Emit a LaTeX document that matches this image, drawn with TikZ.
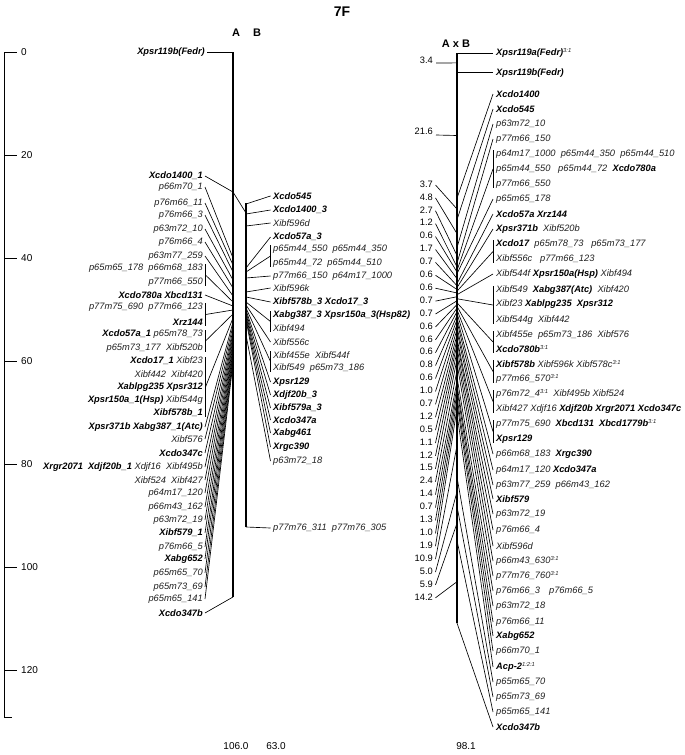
\documentclass[tikz,border=0pt]{standalone}
\usepackage{fontspec}
\setmainfont{Liberation Sans}
\usetikzlibrary{calc}
\definecolor{labgray}{gray}{0.12}
\newcommand\bmk[1]{{\bfseries\color{black}#1}}
\newcommand\myratio[1]{\raisebox{3.4pt}{\fontsize{5.8}{6}\selectfont\mdseries #1}}
\begin{document}
\begin{tikzpicture}[x=1pt,y=-1pt,
  lab/.style={font=\fontsize{9.3}{10}\selectfont\itshape, text=labgray, inner sep=0pt},
  dlab/.style={font=\fontsize{9.3}{10}\selectfont, inner sep=0pt},
  slab/.style={font=\fontsize{10}{11}\selectfont, inner sep=0pt, anchor=west},
  conn/.style={line width=0.65pt},
  barl/.style={line width=1.3pt},
  hdr/.style={font=\fontsize{11}{12}\selectfont\bfseries, inner sep=0pt}]
\useasboundingbox (0,0) rectangle (685,755);

% title and headers
\node[font=\fontsize{14}{15}\selectfont\bfseries, inner sep=0pt] (title) at (342,12) {7F};
\node[hdr] (hA) at (236,33) {A};
\node[hdr] (hB) at (257,33) {B};
\node[hdr] (hAB) at (456,44) {A x B};
\node[slab,anchor=center] (lenA) at (236,746) {106.0};
\node[slab,anchor=center] (lenB) at (276,746) {63.0};
\node[slab,anchor=center] (lenC) at (466,746) {98.1};

% scale
\coordinate (s0) at (4,52);
\coordinate (s1) at (4,717);
\draw[line width=0.9pt] (s0) -- (s1) -- ++(8,0);
\foreach \v in {0,20,40,60,80,100,120}{
  \pgfmathsetmacro\yy{52+5.15*\v}
  \coordinate (t\v) at (4,\yy);
  \draw[line width=0.9pt] (t\v) -- ++(13,0);
  \node[slab] (tl\v) at (21,\yy) {\v};
}

% ---------------- map A ----------------
\coordinate (Atop) at (233,52);
\coordinate (Abot) at (233,597);
\draw[barl] (Atop) -- (Abot);
\node[lab,anchor=east] (A0) at (205,52) {\bmk{Xpsr119b(Fedr)}};
\draw[conn] ([xshift=2pt]A0.east) -- (Atop);

\foreach \n/\y/\ly/\t in {
 1/176/192/\bmk{Xcdo1400\_1},
 2/187/258/p66m70\_1,
 3/203/265/p76m66\_11,
 4/215/272/p76m66\_3,
 5/229/280/p63m72\_10,
 6/242/288/p76m66\_4,
 7/256/296/p63m77\_259,
 9/295/306/\bmk{Xcdo780a Xbcd131},
 13/427/322/\bmk{Xpsr371b Xabg387\_1(Atc)},
 14/439/326/Xibf576,
 15/453/330/\bmk{Xcdo347c},
 16/467/333/\bmk{Xrgr2071}\hspace{5pt}\bmk{Xdjf20b\_1} Xdjf16 \ Xibf495b,
 17/480/336/Xibf524 \ Xibf427,
 18/493/339/p64m17\_120,
 19/507/342/p66m43\_162,
 20/520/345/p63m72\_19,
 21/533/348/\bmk{Xibf579\_1},
 22/547/351/p76m66\_5,
 23/559/354/\bmk{Xabg652},
 24/573/357/p65m65\_70,
 25/587/360/p65m73\_69,
 26/599/363/p65m65\_141}
{
  \node[lab,anchor=east] (A\n) at (203,\y) {\t};
  \coordinate (a\n) at (233,\ly);
  \draw[conn] ([xshift=2pt]A\n.east) -- (a\n);
}
\node[lab,anchor=east] (A27) at (203,613) {\bmk{Xcdo347b}};
\draw[conn] ([xshift=2pt]A27.east) -- (Abot);
% link A -> B
\coordinate (b0) at (246,213);
\draw[conn] (a1) -- (b0);

% bracket groups A
\node[lab,anchor=east] (A8a) at (203,268) {p65m65\_178 \ p66m68\_183};
\node[lab,anchor=east] (A8b) at (203,282) {p77m66\_550};
\coordinate (a8) at (233,302);
\node[lab,anchor=east] (A10a) at (203,307) {p77m75\_690 \ p77m66\_123};
\node[lab,anchor=east] (A10b) at (203,322) {\bmk{Xrz144}};
\coordinate (a10) at (233,310);
\node[lab,anchor=east] (A11a) at (203,334) {\bmk{Xcdo57a\_1} p65m78\_73};
\node[lab,anchor=east] (A11b) at (203,348) {p65m73\_177 \ Xibf520b};
\coordinate (a11) at (233,314);
\node[lab,anchor=east] (A12a) at (203,361) {\bmk{Xcdo17\_1} Xibf23};
\node[lab,anchor=east] (A12b) at (203,374) {Xibf442 \ Xibf420};
\node[lab,anchor=east] (A12c) at (203,387) {\bmk{Xablpg235 Xpsr312}};
\node[lab,anchor=east] (A12d) at (203,400) {\bmk{Xpsr150a\_1(Hsp)} Xibf544g};
\node[lab,anchor=east] (A12e) at (203,413) {\bmk{Xibf578b\_1}};
\coordinate (a12) at (233,318);
\foreach \g/\lo in {8/b,10/b,11/b,12/e}{
  \draw[conn] ([xshift=2.5pt,yshift=4pt]A\g a.east) -- ([xshift=2.5pt,yshift=-4pt]A\g\lo.east);
  \draw[conn] ($(A\g a.east)!0.5!(A\g\lo.east)+(2.5,0)$) -- (a\g);
}

% ---------------- map B ----------------
\coordinate (Btop) at (246,203);
\coordinate (Bbot) at (246,527);
\draw[barl] (Btop) -- (Bbot);
\foreach \n/\y/\ly/\t in {
 1/196/204/\bmk{Xcdo545},
 2/210/214/\bmk{Xcdo1400\_3},
 3/223/226/Xibf596d,
 4/237/268/\bmk{Xcdo57a\_3},
 6/276/278/p77m66\_150 \ p64m17\_1000,
 7/288/292/Xibf596k,
 8/302/297/\bmk{Xibf578b\_3 Xcdo17\_3},
 10/342/305/Xibf556c,
 12/382/310/\bmk{Xpsr129},
 13/395/312/\bmk{Xdjf20b\_3},
 14/408/314/\bmk{Xibf579a\_3},
 15/420/316/\bmk{Xcdo347a},
 16/433/318/\bmk{Xabg461},
 17/447/320/\bmk{Xrgc390},
 18/461/335/p63m72\_18}
{
  \node[lab,anchor=west] (B\n) at (273,\y) {\t};
  \coordinate (bb\n) at (246,\ly);
  \draw[conn] ([xshift=-2.5pt]B\n.west) -- (bb\n);
}
\node[lab,anchor=west] (B19) at (273,528) {p77m76\_311 \ p77m76\_305};
\draw[conn] ([xshift=-2.5pt]B19.west) -- (Bbot);
\node[lab,anchor=west] (B5a) at (273,249) {p65m44\_550 \ p65m44\_350};
\node[lab,anchor=west] (B5b) at (273,263) {p65m44\_72 \ p65m44\_510};
\coordinate (bb5) at (246,272);
\node[lab,anchor=west] (B9a) at (273,315) {\bmk{Xabg387\_3 Xpsr150a\_3(Hsp82)}};
\node[lab,anchor=west] (B9b) at (273,328) {Xibf494};
\coordinate (bb9) at (246,302);
\node[lab,anchor=west] (B11a) at (273,355) {Xibf455e \ Xibf544f};
\node[lab,anchor=west] (B11b) at (273,368) {Xibf549 \ p65m73\_186};
\coordinate (bb11) at (246,308);
\foreach \g in {5,9,11}{
  \draw[conn] ([xshift=-2.5pt,yshift=4pt]B\g a.west) -- ([xshift=-2.5pt,yshift=-4pt]B\g b.west);
  \draw[conn] ($(B\g a.west)!0.5!(B\g b.west)+(-2.5,0)$) -- (bb\g);
}

% ---------------- map A x B ----------------
\coordinate (Ctop) at (457,53);
\coordinate (Cbot) at (457,623);
\draw[barl] (Ctop) -- (Cbot);
\node[lab,anchor=west] (R0) at (496,53) {\bmk{Xpsr119a(Fedr)}\myratio{3:1}};
\draw[conn] ([xshift=-3pt]R0.west) -- (Ctop);
\coordinate (c1) at (457,72.8);
\node[lab,anchor=west] (R1) at (496,72.8) {\bmk{Xpsr119b(Fedr)}};
\draw[conn] ([xshift=-3pt]R1.west) -- (c1);

\foreach \n/\y/\c/\t in {
 2/94/25.0/\bmk{Xcdo1400},
 3/109/28.7/\bmk{Xcdo545},
 4/124/33.5/p63m72\_10,
 5/139/36.2/p77m66\_150,
 7/199/38.0/p65m65\_178,
 8/214/39.7/\bmk{Xcdo57a Xrz144},
 9/229/40.4/\bmk{Xpsr371b}\hspace{5pt}Xibf520b,
 11/274/41.6/Xibf544f \bmk{Xpsr150a(Hsp)} Xibf494,
 17/454/45.6/p66m68\_183 \ \bmk{Xrgc390},
 18/470/46.2/p64m17\_120 \bmk{Xcdo347a},
 19/485/47.2/p63m77\_259 \ p66m43\_162,
 20/499/47.9/\bmk{Xibf579},
 21/514/49.1/p63m72\_19,
 22/530/49.6/p76m66\_4,
 23/546/50.7/Xibf596d,
 24/561/51.9/p66m43\_630\myratio{3:1},
 25/576/53.4/p77m76\_760\myratio{3:1},
 26/591/55.8/p76m66\_3\hspace{9pt}p76m66\_5,
 27/606/57.2/p63m72\_18,
 28/622/57.9/p76m66\_11,
 29/636/59.2/\bmk{Xabg652},
 30/651/60.2/p66m70\_1,
 31/667/62.1/\bmk{Acp-2}\myratio{1:2:1},
 32/682/73.0/p65m65\_70,
 33/697/78.0/p65m73\_69,
 34/712/83.9/p65m65\_141}
{
  \pgfmathsetmacro\ly{53+5.81*\c}
  \node[lab,anchor=west] (R\n) at (496,\y) {\t};
  \coordinate (c\n) at (457,\ly);
  \draw[conn] ([xshift=-3pt]R\n.west) -- (c\n);
}
\node[lab,anchor=west] (R35) at (496,727) {\bmk{Xcdo347b}};
\draw[conn] ([xshift=-3pt]R35.west) -- (Cbot);

% bracket groups right
\node[lab,anchor=west] (R6a) at (496,154) {p64m17\_1000 \ p65m44\_350 \ p65m44\_510};
\node[lab,anchor=west] (R6b) at (496,169) {p65m44\_550 \ \ p65m44\_72 \ \bmk{Xcdo780a}};
\node[lab,anchor=west] (R6c) at (496,184) {p77m66\_550};
\node[lab,anchor=west] (R10a) at (496,244) {\bmk{Xcdo17} \ p65m78\_73 \ \ p65m73\_177};
\node[lab,anchor=west] (R10b) at (496,259) {Xibf556c \ \ p77m66\_123};
\node[lab,anchor=west] (R12a) at (496,290) {Xibf549 \ \bmk{Xabg387(Atc)} \ Xibf420};
\node[lab,anchor=west] (R12b) at (496,304) {Xibf23 \bmk{Xablpg235 \ Xpsr312}};
\node[lab,anchor=west] (R12c) at (496,320) {Xibf544g \ Xibf442};
\node[lab,anchor=west] (R13a) at (496,335) {Xibf455e \ p65m73\_186 \ Xibf576};
\node[lab,anchor=west] (R13b) at (496,349) {\bmk{Xcdo780b}\myratio{3:1}};
\node[lab,anchor=west] (R14a) at (496,364) {\bmk{Xibf578b} Xibf596k Xibf578c\myratio{3:1}};
\node[lab,anchor=west] (R14b) at (496,379) {p77m66\_570\myratio{3:1}};
\node[lab,anchor=west] (R15a) at (496,394) {p76m72\_4\myratio{3:1} \ Xibf495b Xibf524};
\node[lab,anchor=west] (R15b) at (496,409) {Xibf427 Xdjf16 \bmk{Xdjf20b Xrgr2071 Xcdo347c}};
\node[lab,anchor=west] (R16a) at (496,424) {p77m75\_690 \ \bmk{Xbcd131 \ Xbcd1779b}\myratio{3:1}};
\node[lab,anchor=west] (R16b) at (496,439) {\bmk{Xpsr129}};
\foreach \g/\lo/\c in {6/c/37.4,10/b/41.0,12/c/42.3,13/b/43.0,14/b/43.6,15/b/44.2,16/b/44.8}{
  \pgfmathsetmacro\ly{53+5.81*\c}
  \coordinate (c\g) at (457,\ly);
  \draw[conn] ([xshift=-3pt,yshift=4pt]R\g a.west) -- ([xshift=-3pt,yshift=-4pt]R\g\lo.west);
  \draw[conn] ($(R\g a.west)!0.5!(R\g\lo.west)+(-3,0)$) -- (c\g);
}

% interval lengths
\node[dlab,anchor=east] (Dt1) at (433,60) {3.4};
\coordinate (dt1) at (457,62.9);
\draw[conn] ([xshift=3pt,yshift=-3pt]Dt1.east) -- (dt1);
\node[dlab,anchor=east] (Dt2) at (433,131) {21.6};
\coordinate (dt2) at (457,135.5);
\draw[conn] ([xshift=3pt,yshift=-4pt]Dt2.east) -- (dt2);
\foreach \i/\v/\m in {0/3.7/26.85,1/4.8/31.1,2/2.7/34.85,3/1.2/36.8,4/0.6/37.7,5/1.7/38.85,
  6/0.7/40.05,7/0.6/40.7,8/0.6/41.3,9/0.7/41.95,10/0.7/42.65,11/0.6/43.3,12/0.6/43.9,
  13/0.6/44.5,14/0.8/45.2,15/0.6/45.9,16/1.0/46.7,17/0.7/47.55,18/1.2/48.5,19/0.5/49.35,
  20/1.1/50.15,21/1.2/51.3,22/1.5/52.65,23/2.4/54.6,24/1.4/56.5,25/0.7/57.55,26/1.3/58.55,
  27/1.0/59.7,28/1.9/61.15,29/10.9/67.55,30/5.0/75.5,31/5.9/80.95,32/14.2/91.0}
{
  \pgfmathsetmacro\yy{184+12.9*\i}
  \pgfmathsetmacro\mm{53+5.81*\m}
  \node[dlab,anchor=east] (D\i) at (433,\yy) {\v};
  \coordinate (dm\i) at (457,\mm);
  \draw[conn] ([xshift=2.5pt,yshift=-1pt]D\i.east) -- (dm\i);
}
\end{tikzpicture}
\end{document}
